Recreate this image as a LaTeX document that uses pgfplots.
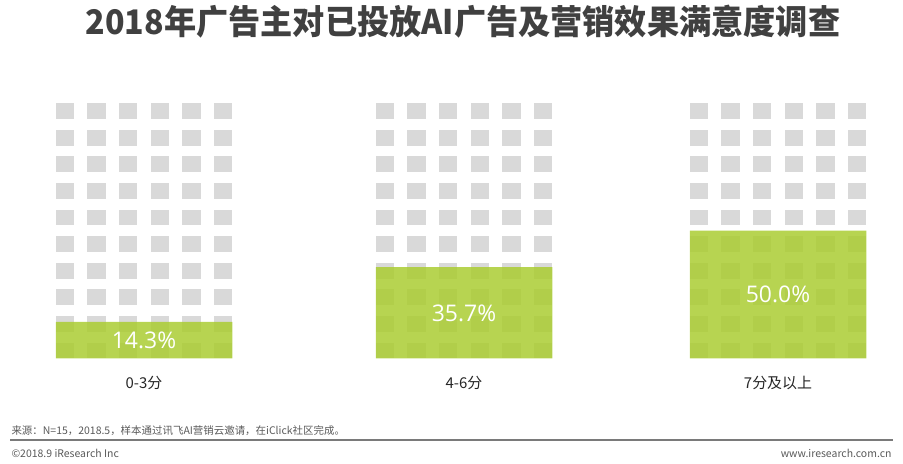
\documentclass[border=0pt]{standalone}
\usepackage{pgfplots}
\pgfplotsset{compat=1.18}
\usepackage{fontspec}
\setmainfont{Noto Sans CJK SC}
\newfontfamily\numfont{Open Sans}
\definecolor{titlegray}{HTML}{404040}
\definecolor{sqgray}{HTML}{D9D9D9}
\definecolor{barg}{HTML}{AACD32}
\definecolor{foot}{HTML}{595959}
\definecolor{catc}{HTML}{262626}
\begin{document}
\begin{tikzpicture}[x=1bp,y=1bp]
\useasboundingbox (0,0) rectangle (903,464);
\node[font=\bfseries\fontsize{34}{40}\selectfont, text=titlegray, xscale=0.95, transform shape] at (463,442) {2018年广告主对已投放AI广告及营销效果满意度调查};
\begin{axis}[
  at={(0bp,105.5bp)}, anchor=south west,
  scale only axis, width=903bp, height=255.6bp,
  xmin=0, xmax=903, ymin=0, ymax=100,
  axis line style={draw=none},
  major tick length=0pt,
  ytick=\empty,
  xtick={144,464,778},
  xticklabels={0-3分,4-6分,7分及以上},
  xticklabel style={font=\fontsize{15}{18}\selectfont, text=catc, anchor=center, yshift=-24.5bp},
  ybar, bar width=176.5,
  clip=false,
]
\pgfplotsextra{
  \foreach \cx in {144,464,778}{
    \foreach \j in {0,...,5}{
      \foreach \k in {0,...,9}{
        \pgfmathsetmacro\xa{\cx-88.25+31.6*\j}
        \pgfmathsetmacro\xb{\xa+18.5}
        \pgfmathsetmacro\ya{10.41*\k}
        \pgfmathsetmacro\yb{\ya+6.2}
        \fill[sqgray] (axis cs:\xa,\ya) rectangle (axis cs:\xb,\yb);
      }
    }
  }
}
\addplot[fill=barg, fill opacity=0.85, draw=none,
  visualization depends on={y \as \rawy},
  nodes near coords={\pgfmathprintnumber[fixed,fixed zerofill,precision=1,assume math mode=true]{\pgfplotspointmeta}\%},
  every node near coord/.append style={anchor=center, text=white, text opacity=1,
     font=\numfont\fontsize{23}{28}\selectfont,
     shift={(axis direction cs:0,-\rawy/2)}},
] coordinates {(144,14.3) (464,35.7) (778,50.0)};
\end{axis}
\node[anchor=west, font=\fontsize{10.5}{12}\selectfont, text=foot] at (8,33) {来源：N=15，2018.5，样本通过讯飞AI营销云邀请，在iClick社区完成。};
\draw[foot!80, line width=1.2bp] (10,24) -- (893,24);
\node[anchor=west, font=\fontsize{10.5}{12}\selectfont, text=foot] at (8,11) {©2018.9 iResearch Inc};
\node[anchor=east, font=\fontsize{10.5}{12}\selectfont, text=foot] at (895,11) {www.iresearch.com.cn};
\end{tikzpicture}
\end{document}
